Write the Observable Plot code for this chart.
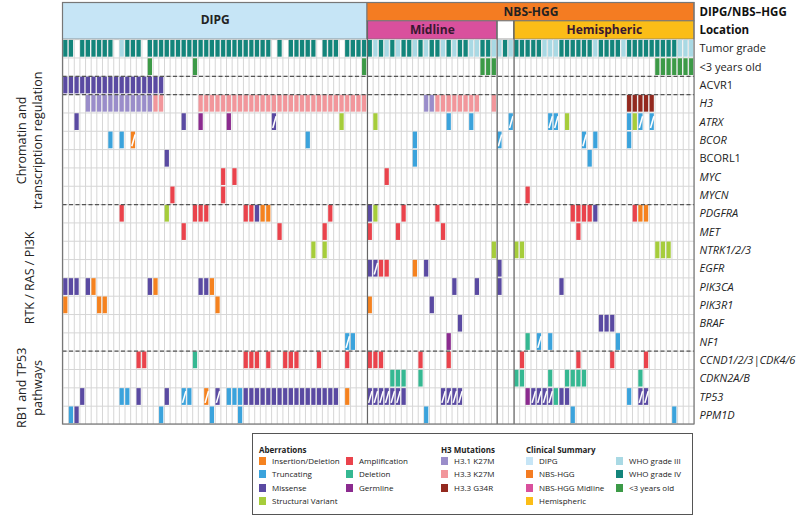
<!DOCTYPE html>
<html><head><meta charset="utf-8">
<script src="https://cdn.jsdelivr.net/npm/d3@7"></script>
<script src="https://cdn.jsdelivr.net/npm/@observablehq/plot@0.6"></script>
<style>
html,body{margin:0;padding:0;background:#fff;}
body{font-family:"Open Sans","Noto Sans",sans-serif;width:800px;height:519px;overflow:hidden;position:relative;}
#legend{position:absolute;left:252px;top:433px;width:441px;height:82px;border:1px solid #555;box-sizing:border-box;font-size:8px;color:#222;}
#legend .h{position:absolute;font-weight:700;font-size:8px;}
#legend .it{position:absolute;white-space:nowrap;line-height:9px;}
#legend .sw{display:inline-block;width:7px;height:8px;vertical-align:-1px;margin-right:6px;}
</style></head><body>
<div id="chart"></div><div id="legend"></div>
<script>
// ---------- DATA ----------
const rowNames = ["Tumor grade","<3 years old","ACVR1","H3","ATRX","BCOR","BCORL1","MYC","MYCN","PDGFRA","MET","NTRK1/2/3","EGFR","PIK3CA","PIK3R1","BRAF","NF1","CCND1/2/3|CDK4/6","CDKN2A/B","TP53","PPM1D"];
const uprightRows = ["Tumor grade","<3 years old","ACVR1","BCORL1"];
const nCols = 112;
const groupsTop = [{name:"DIPG", start:0, end:54, fill:"#c6e5f6"},{name:"NBS-HGG", start:54, end:112, fill:"#f47c22"}];
const groupsLoc = [{name:"Midline", start:54, end:77, fill:"#d9509d"},{name:"", start:77, end:80, fill:"#ffffff"},{name:"Hemispheric", start:80, end:112, fill:"#fbbd17"}];
const headerLabels = ["DIPG/NBS\u2013HGG","Location"];
const pathwayLabels = [{text:"Chromatin and\ntranscription regulation", r1:2, r2:9},{text:"RTK / RAS / PI3K", r1:9, r2:17},{text:"RB1 and TP53\npathways", r1:17, r2:21}];
const dashedAt = [2,3,9,17];

// tumor grade per column: 4 = WHO IV, 3 = WHO III, 0 = none
const tumorGrade = [4,4,0,4,4,4,4,4,4,0,3,4,4,4,0,4,4,4,4,4,4,4,4,4,4,4,4,4,4,4,4,4,4,4,4,4,4,0,4,0,4,4,4,4,4,0,4,4,4,0,4,4,4,4,
 4,3,4,3,4,3,4,4,3,4,3,4,4,3,4,3,4,4,3,3,4,4,3,
 3,4,3,
 4,4,4,4,4,3,3,3,4,4,4,4,4,4,3,4,4,4,4,3,4,4,4,4,4,4,4,4,4,3,3,3];
const under3 = [15,23,53,74,75,76,105,106,107,108,109,110,111];
const acvr1 = [[0,"M"],[1,"M"],[2,"M"],[3,"M"],[4,"M"],[5,"M"],[6,"M"],[7,"M"],[8,"M"],[9,"M"],[10,"M"],[11,"M"],[12,"M"],[13,"M"],[14,"M"],[15,"M"],[16,"M"],[17,"M"]];
const h3 = [[4,"K31"],[5,"K31"],[6,"K31"],[7,"K31"],[8,"K31"],[9,"K31"],[10,"K31"],[11,"K31"],[12,"K31"],[13,"K31"],[14,"K31"],[15,"K31"],[16,"K33"],[17,"K33"],
 [24,"K33"],[25,"K33"],[26,"K33"],[27,"K33"],[28,"K33"],[29,"K33"],[30,"K33"],[31,"K33"],[32,"K33"],[33,"K33"],[34,"K33"],[35,"K33"],[36,"K33"],[37,"K33"],[38,"K33"],[39,"K33"],[40,"K33"],[41,"K33"],[42,"K33"],[43,"K33"],[44,"K33"],[45,"K33"],[46,"K33"],[47,"K33"],[48,"K33"],[49,"K33"],[50,"K33"],[51,"K33"],[52,"K33"],[53,"K33"],
 [64,"K31"],[65,"K31"],[66,"K33"],[67,"K33"],[68,"K33"],[69,"K33"],[70,"K33"],[71,"K33"],[72,"K33"],[73,"K33"],[76,"K33"],
 [100,"G34"],[101,"G34"],[102,"G34"],[103,"G34"],[104,"G34"]];
const atrx = [[2,"M"],[21,"M"],[24,"G"],[29,"G"],[37,"M/"],[49,"S"],[55,"S"],[68,"T"],[72,"T"],[79,"T/"],[86,"T/"],[87,"T/"],[89,"S"],[100,"T"],[101,"S"],[102,"T/"],[104,"T/"]];
const bcor = [[8,"T"],[10,"T"],[12,"I/"],[43,"T"],[62,"T"],[77,"T/"],[92,"T/"],[94,"T"],[100,"T"]];
const bcorl1 = [[18,"M"],[62,"T"],[93,"T"]];
const myc = [[28,"A"],[30,"A"],[57,"A"]];
const mycn = [[19,"A"],[28,"A"],[82,"A"]];
const pdgfra = [[10,"A"],[18,"S"],[23,"A"],[24,"A"],[25,"A"],[32,"A"],[33,"A"],[34,"M"],[35,"I"],[36,"I"],[47,"A"],[54,"M"],[55,"S"],[60,"A"],[66,"A"],[90,"A"],[91,"A"],[92,"A"],[93,"A"],[94,"M"],[101,"A"],[102,"I"],[103,"I"]];
const met = [[21,"A"],[38,"A"],[46,"A"],[54,"A"],[59,"A"],[67,"A"],[91,"A"]];
const ntrk = [[44,"S"],[46,"S"],[76,"S"],[80,"S"],[81,"S"],[105,"S"],[106,"S"],[107,"S"]];
const egfr = [[54,"M"],[55,"M/"],[56,"A"],[57,"A"],[62,"I"],[64,"M"],[77,"M"]];
const pik3ca = [[0,"M"],[1,"M"],[2,"M"],[4,"M"],[5,"I"],[15,"M"],[16,"I"],[24,"M"],[25,"M"],[26,"I"],[69,"M"],[73,"M"],[77,"M"],[88,"M"]];
const pik3r1 = [[0,"I"],[6,"I"],[7,"I"],[27,"I"],[54,"I"],[65,"M"]];
const braf = [[70,"M"],[95,"M"],[96,"M"],[97,"M"]];
const nf1 = [[50,"T/"],[51,"T"],[68,"G"],[82,"D"],[84,"T/"],[86,"T"],[98,"T"]];
const ccnd = [[13,"A"],[14,"A"],[23,"D"],[32,"A"],[33,"A"],[34,"A"],[36,"A"],[39,"A"],[40,"A"],[41,"A"],[45,"A"],[50,"A"],[54,"A"],[55,"A"],[56,"A"],[63,"A"],[68,"A"],[81,"A"],[91,"A"],[97,"A"],[103,"A"]];
const cdkn2a = [[58,"D"],[59,"D"],[60,"D"],[63,"D"],[80,"D"],[81,"D"],[86,"D"],[89,"D"],[90,"D"],[91,"D"],[92,"D"],[102,"D"]];
const tp53 = [[3,"M"],[10,"T"],[11,"T"],[13,"M"],[18,"M"],[21,"T/"],[22,"T"],[25,"I/"],[27,"M/"],[29,"T"],[30,"T"],[31,"T"],[32,"M"],[33,"M"],[34,"M"],[35,"M"],[36,"M"],[37,"M"],[38,"M"],[39,"M"],[40,"M"],[41,"M"],[42,"M"],[43,"M"],[44,"M"],[45,"M"],[46,"M"],[47,"M"],[48,"M"],[50,"I"],
 [54,"M/"],[55,"M/"],[56,"M/"],[57,"M/"],[58,"M/"],[59,"M/"],[60,"M"],[67,"M/"],[68,"M/"],[69,"M/"],[70,"M/"],[82,"G"],[83,"M/"],[84,"M/"],[85,"M/"],[86,"M/"],[87,"D"],[88,"M"],[89,"M"],[100,"T"],[102,"M/"],[103,"M/"]];
const ppm1d = [[1,"T"],[2,"M"],[17,"T"],[26,"T"],[31,"T"],[64,"T"],[90,"T"],[108,"T"]];
const geneRows = {"ACVR1":acvr1,"H3":h3,"ATRX":atrx,"BCOR":bcor,"BCORL1":bcorl1,"MYC":myc,"MYCN":mycn,"PDGFRA":pdgfra,"MET":met,"NTRK1/2/3":ntrk,"EGFR":egfr,"PIK3CA":pik3ca,"PIK3R1":pik3r1,"BRAF":braf,"NF1":nf1,"CCND1/2/3|CDK4/6":ccnd,"CDKN2A/B":cdkn2a,"TP53":tp53,"PPM1D":ppm1d};

const colors = {I:"#f5821f",T:"#3ba3dc",M:"#5a4aa2",S:"#a6cd3b",A:"#ea434c",D:"#35b892",G:"#8b2b8f",
  K31:"#9a8dca",K33:"#f2969b",G34:"#93291f",W3:"#a9d9e4",W4:"#13857b",U3:"#3c9a47"};

// ---------- build table ----------
const cells = [];
tumorGrade.forEach((g,c)=>{ if(g) cells.push({c, r:0, code: g===4?"W4":"W3"}); });
under3.forEach(c=>cells.push({c, r:1, code:"U3"}));
for (const [name, arr] of Object.entries(geneRows)) {
  const r = rowNames.indexOf(name);
  for (const [c, code] of arr) cells.push({c, r, code: code.replace("/",""), slash: code.endsWith("/")});
}
const slashed = cells.filter(d=>d.slash);
const rowsT = rowNames.map((name,r)=>({name,r}));
const rowsUp = rowsT.filter(d=>uprightRows.includes(d.name));
const rowsIt = rowsT.filter(d=>!uprightRows.includes(d.name));

const chart = Plot.plot({
  width: 800, height: 428,
  marginLeft: 62.5, marginRight: 106, marginTop: 2.5, marginBottom: 4,
  x: {domain:[0,nCols], axis:null},
  y: {domain:[-2,21], reverse:true, axis:null},
  style: {fontFamily:"'Open Sans','Noto Sans',sans-serif"},
  marks: [
    // header boxes
    Plot.rect(groupsTop, {x1:"start", x2:"end", y1:-2, y2: d=>d.name==="DIPG"?0:-1, fill:"fill", stroke:"#777", strokeWidth:1}),
    Plot.rect(groupsLoc, {x1:"start", x2:"end", y1:-1, y2:0, fill:"fill", stroke:"#777", strokeWidth:1}),
    Plot.text(groupsTop, {x:d=>(d.start+d.end)/2, y:d=>d.name==="DIPG"?-1.05:-1.5, text:"name", fontWeight:"bold", fontSize:12, fill:"#222"}),
    Plot.text(groupsLoc, {x:d=>(d.start+d.end)/2, y:-0.5, text:"name", fontWeight:"bold", fontSize:12, fill:"#3a1830"}),
    // grid
    Plot.ruleX(d3.range(0,nCols+1), {y1:0, y2:21, stroke:"#d6d6d6", strokeWidth:1}),
    Plot.ruleY(d3.range(0,22), {x1:0, x2:nCols, stroke:"#d6d6d6", strokeWidth:1}),
    // cells
    Plot.rect(cells, {x1:"c", x2:d=>d.c+1, y1:"r", y2:d=>d.r+1, fill:d=>colors[d.code], insetLeft:0.7, insetRight:0.7, insetTop:0.8, insetBottom:0.8}),
    Plot.link(slashed, {x1:d=>d.c+0.2, x2:d=>d.c+0.8, y1:d=>d.r+0.82, y2:d=>d.r+0.18, stroke:"white", strokeWidth:1.6}),
    // separators
    Plot.ruleY(dashedAt, {x1:0, x2:nCols, stroke:"#555", strokeWidth:1.2, strokeDasharray:"4,2.5"}),
    Plot.ruleX(groupsLoc.map(d=>d.start), {y1:-1, y2:21, stroke:"#666", strokeWidth:1.2}),
    Plot.rect([0], {x1:0, x2:nCols, y1:-2, y2:21, fill:"none", stroke:"#777", strokeWidth:1.2}),
    // row labels
    Plot.text(rowsUp, {x:nCols, y:d=>d.r+0.5, text:"name", textAnchor:"start", dx:5, fontSize:11, fill:"#222"}),
    Plot.text(rowsIt, {x:nCols, y:d=>d.r+0.5, text:"name", textAnchor:"start", dx:5, fontSize:11, fill:"#222", fontStyle:"italic"}),
    Plot.text(headerLabels, {x:nCols, y:(d,i)=>i-1.5, text:d=>d, textAnchor:"start", dx:5, fontSize:11.5, fontWeight:"bold", fill:"#111"}),
    Plot.text(pathwayLabels, {x:0, y:d=>(d.r1+d.r2)/2, text:"text", rotate:-90, dx:-34, fontSize:12.5, fill:"#222", lineHeight:1.25})
  ]
});
document.getElementById("chart").appendChild(chart);

// ---------- legend ----------
const legendCols = [
  {x:6, title:"Aberrations", items:[["Insertion/Deletion","I"],["Truncating","T"],["Missense","M"],["Structural Variant","S"]]},
  {x:93, title:"", items:[["Amplification","A"],["Deletion","D"],["Germline","G"]]},
  {x:188, title:"H3 Mutations", items:[["H3.1 K27M","K31"],["H3.3 K27M","K33"],["H3.3 G34R","G34"]]},
  {x:273, title:"Clinical Summary", items:[["DIPG","#c6e5f6"],["NBS-HGG","#f47c22"],["NBS-HGG Midline","#d9509d"],["Hemispheric","#fbbd17"]]},
  {x:363, title:"", items:[["WHO grade III","W3"],["WHO grade IV","W4"],["<3 years old","U3"]]}
];
const lg = d3.select("#legend");
legendCols.forEach(col=>{
  if (col.title) lg.append("div").attr("class","h").style("left",col.x+"px").style("top","10px").text(col.title);
  col.items.forEach(([label,key],i)=>{
    const it = lg.append("div").attr("class","it").style("left",col.x+"px").style("top",(22+i*13.3)+"px");
    it.append("span").attr("class","sw").style("background", colors[key]||key);
    it.append("span").text(label);
  });
});
</script></body></html>
